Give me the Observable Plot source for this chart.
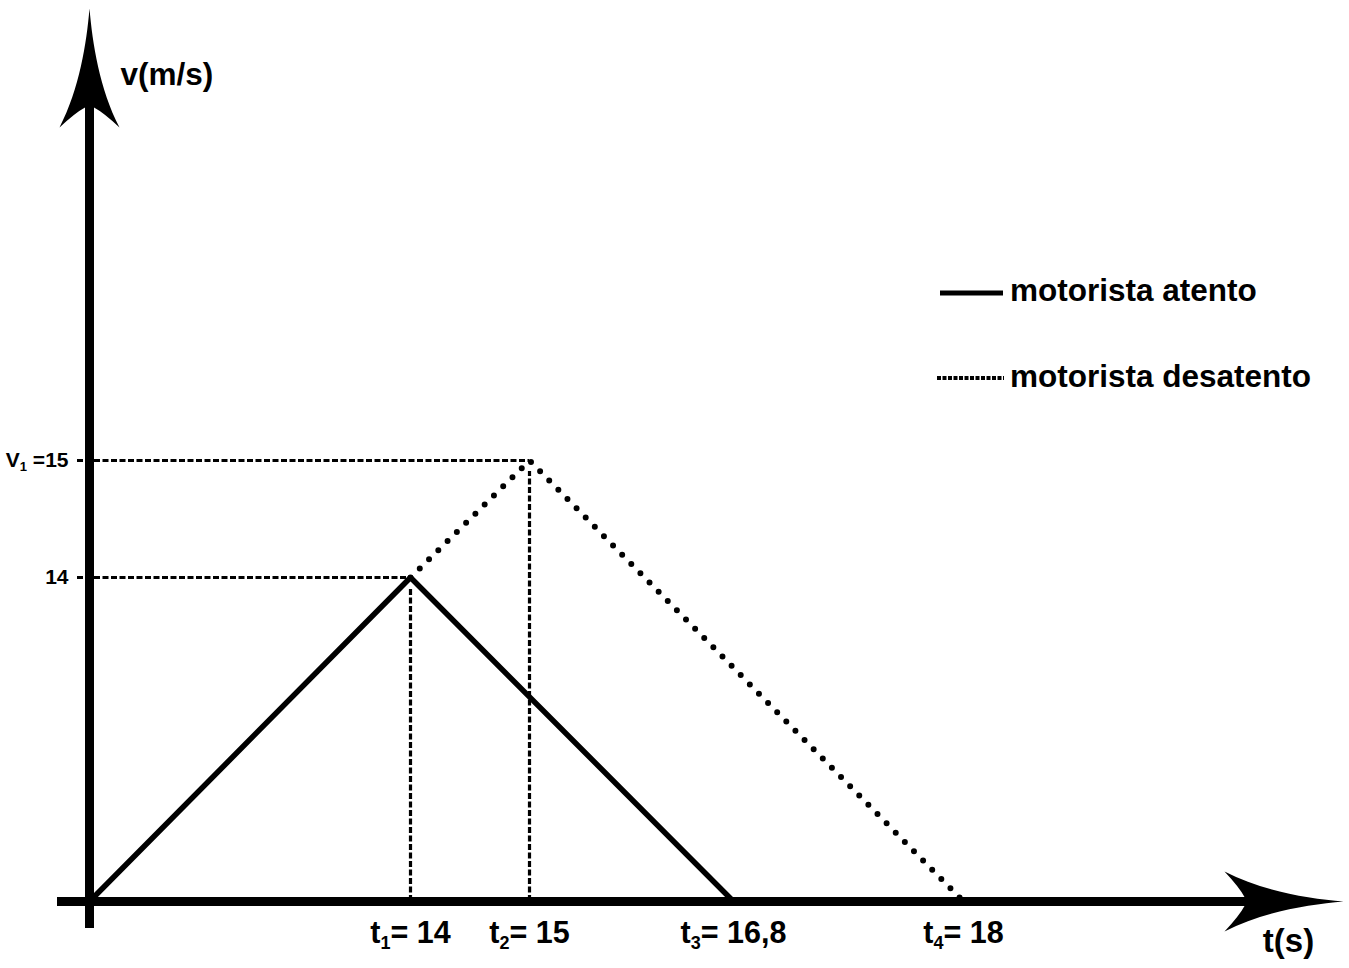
<!DOCTYPE html>
<html><head><meta charset="utf-8">
<script src="https://cdn.jsdelivr.net/npm/d3@7"></script>
<script src="https://cdn.jsdelivr.net/npm/@observablehq/plot@0.6"></script>
<style>
html,body{margin:0;padding:0;background:#fff;}
#wrap{position:relative;width:1349px;height:968px;font-family:"Liberation Sans",Arial,sans-serif;color:#000;}
.lg{position:absolute;font-weight:bold;font-size:31.5px;line-height:31.5px;white-space:nowrap;}
.sw{position:absolute;}
</style></head><body><div id="wrap"></div>
<script>
// ---- data ----
const tTicks = [14, 15, 16.8, 18];
const tLabelBase = ["t", "t", "t", "t"];
const tLabelSub = ["1", "2", "3", "4"];
const tLabelRest = ["= 14", "= 15", "= 16,8", "= 18"];
const vTicks = [15, 14];
const vLabelBase = ["V", "14"];
const vLabelSub = ["1", ""];
const vLabelRest = [" =15", ""];
const atentoT = [0, 14, 16.8];
const atentoV = [0, 14, 0];
const desatentoT = [14, 15, 18];
const desatentoV = [14, 15, 0];
const guideT = [14, 15];
const guideV = [14, 15];
const legendLabels = ["motorista atento", "motorista desatento"];
const axisLabels = ["v(m/s)", "t(s)"];
// schematic (non-uniform) axes: piecewise breakpoints
const tBreaks = [-1, 0, 14, 15, 16.8, 18, 20];
const vBreaks = [-1, 0, 14, 15, 20];
const tEnd = 20, tShaftEnd = 19.6, vEnd = 20, vShaftEnd = 19;

// ---- tables ----
const atento = atentoT.map((t, i) => ({t, v: atentoV[i]}));
const desatento = desatentoT.map((t, i) => ({t, v: desatentoV[i]}));
const guides = guideT.map((t, i) => ({t, v: guideV[i]}));
const tLab = tTicks.map((t, i) => ({t, label: [tLabelBase[i], tLabelSub[i], tLabelRest[i]].join("|")}));
const vLab = vTicks.map((v, i) => ({v, label: [vLabelBase[i], vLabelSub[i], vLabelRest[i]].join("|")}));

const arrowHead = {
  draw(ctx) {
    ctx.moveTo(0, 0);
    ctx.bezierCurveTo(3, 35, 10, 80, 30, 119);
    ctx.quadraticCurveTo(14, 104, 4.5, 99);
    ctx.lineTo(-4.5, 99);
    ctx.quadraticCurveTo(-14, 104, -30, 119);
    ctx.bezierCurveTo(-10, 80, -3, 35, 0, 0);
    ctx.closePath();
  }
};

const dash = "6,2.5";
const plot = Plot.plot({
  width: 1349, height: 968, margin: 0,
  x: {type: "linear", domain: tBreaks, range: [57, 89, 410, 529, 733, 963, 1343], axis: null},
  y: {type: "linear", domain: vBreaks, range: [928, 901, 577, 460, 8], axis: null},
  style: {fontFamily: "'Liberation Sans', Arial, sans-serif", background: "white", color: "black"},
  marks: [
    Plot.ruleY(guides, {y: "v", x1: () => 0, x2: "t", stroke: "black", strokeWidth: 3.2, strokeDasharray: dash, insetLeft: -12}),
    Plot.ruleX(guides, {x: "t", y1: () => 0, y2: "v", stroke: "black", strokeWidth: 3.2, strokeDasharray: dash, insetBottom: -11}),
    Plot.ruleY([0], {x1: () => -1, x2: () => tShaftEnd, stroke: "black", strokeWidth: 9}),
    Plot.ruleX([0], {y1: () => -1, y2: () => vShaftEnd, stroke: "black", strokeWidth: 9}),
    Plot.dot([0], {x: () => 0, y: () => vEnd, symbol: arrowHead, fill: "black", stroke: "none", r: 10}),
    Plot.dot([0], {x: () => tEnd, y: () => 0, symbol: arrowHead, fill: "black", stroke: "none", r: 10, rotate: 90}),
    Plot.line(atento, {x: "t", y: "v", stroke: "black", strokeWidth: 5.5, strokeLinejoin: "miter"}),
    Plot.line(desatento, {x: "t", y: "v", stroke: "black", strokeWidth: 6, strokeDasharray: "0,13", strokeLinecap: "round"}),
    Plot.text(tLab, {x: "t", y: () => 0, text: "label", fontSize: 30.5, fontWeight: "bold", textAnchor: "middle", dy: 32, fill: "black"}),
    Plot.text(vLab, {x: () => 0, y: "v", text: "label", fontSize: 21, fontWeight: "bold", textAnchor: "end", dx: -21, fill: "black"}),
    Plot.text([axisLabels[0]], {x: () => 0, y: () => vEnd, text: d => d, fontSize: 31.5, fontWeight: "bold", textAnchor: "start", dx: 31, dy: 66, fill: "black"}),
    Plot.text([axisLabels[1]], {x: () => tEnd, y: () => 0, text: d => d, fontSize: 33, fontWeight: "bold", textAnchor: "middle", dx: -55, dy: 40, fill: "black"})
  ]
});
const wrap = document.getElementById("wrap");
wrap.appendChild(plot);

// subscripts
d3.select(plot).selectAll("text").each(function() {
  const s = this.textContent;
  if (!s.includes("|")) return;
  const [a, b, c] = s.split("|");
  const fs = parseFloat(getComputedStyle(this).fontSize) || 20;
  const el = d3.select(this);
  el.text(null);
  el.append("tspan").text(a);
  if (b) {
    const shift = Math.round(fs * 0.2);
    el.append("tspan").attr("dy", shift).attr("font-size", Math.round(fs * 0.6)).text(b);
    el.append("tspan").attr("dy", -shift).text(c);
  } else if (c) el.append("tspan").text(c);
});

// legend
const swatches = [
  {left: 940, top: 290, w: 63, sw: 5, dash: null},
  {left: 937, top: 375, w: 67, sw: 4, dash: "4,1.5"}
];
const textTops = [275, 361];
legendLabels.forEach((lab, i) => {
  const s = swatches[i];
  const svg = d3.create("svg").attr("class", "sw").attr("width", s.w).attr("height", 6)
    .style("left", s.left + "px").style("top", s.top + "px");
  svg.append("line").attr("x1", 0).attr("x2", s.w).attr("y1", 3).attr("y2", 3)
    .attr("stroke", "black").attr("stroke-width", s.sw).attr("stroke-dasharray", s.dash);
  wrap.appendChild(svg.node());
  const d = document.createElement("div");
  d.className = "lg";
  d.style.left = "1010px";
  d.style.top = textTops[i] + "px";
  d.textContent = lab;
  wrap.appendChild(d);
});
</script></body></html>
